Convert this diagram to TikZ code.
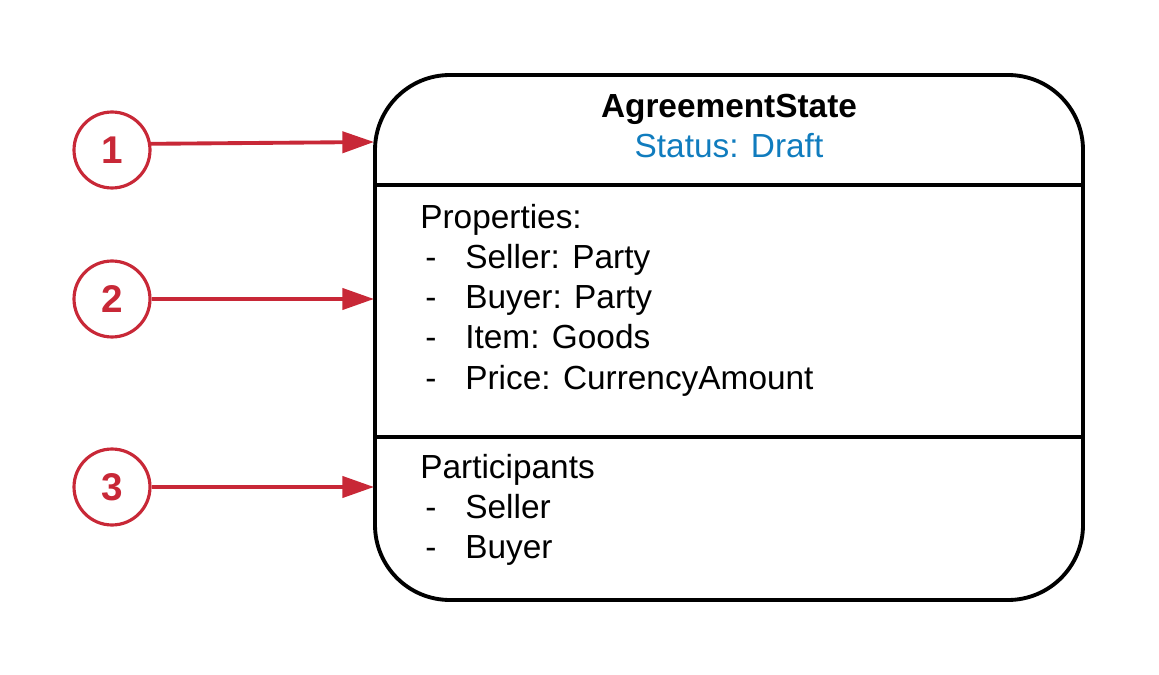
\documentclass[tikz,border=0pt]{standalone}
\usepackage{fontspec}
\setmainfont{Liberation Sans}
\usetikzlibrary{arrows.meta}
\definecolor{markred}{RGB}{200,40,55}
\definecolor{statusblue}{RGB}{16,124,190}
\tikzset{
  marker/.style={circle, draw=markred, line width=1.8pt, minimum size=1.52cm, inner sep=0pt,
    text=markred, font=\fontsize{22}{26}\selectfont\bfseries},
  pointer/.style={draw=markred, line width=2.2pt, -{Triangle[length=18pt,width=12pt]}},
  entry/.style={anchor=base west, inner sep=0pt, font=\fontsize{19}{22.7}\selectfont}
}
\begin{document}
\begin{tikzpicture}[x=0.02cm,y=-0.02cm]
\useasboundingbox (0,0) rectangle (1159,675);

% State box with its three parts
\draw[line width=2.2pt, rounded corners=1.5cm] (375,75) rectangle (1083,600);
\draw[line width=2.2pt] (375,185) -- (1083,185);
\draw[line width=2.2pt] (375,437) -- (1083,437);

% Header
\node[entry, anchor=base, font=\fontsize{19}{22.7}\selectfont\bfseries] (title) at (729,118) {AgreementState};
\node[entry, anchor=base, text=statusblue] (status) at (729,158) {Status: Draft};

% Properties
\node[entry] (props) at (420,229) {Properties:};
\node[entry] (d1) at (425,269) {-};
\node[entry] (seller) at (465,269) {Seller: Party};
\node[entry] (d2) at (425,309) {-};
\node[entry] (buyer) at (465,309) {Buyer: Party};
\node[entry] (d3) at (425,349) {-};
\node[entry] (item) at (465,349) {Item: Goods};
\node[entry] (d4) at (425,389) {-};
\node[entry] (price) at (465,389) {Price: CurrencyAmount};

% Participants
\node[entry] (parts) at (420,478) {Participants};
\node[entry] (d5) at (425,518) {-};
\node[entry] (pseller) at (465,518) {Seller};
\node[entry] (d6) at (425,558) {-};
\node[entry] (pbuyer) at (465,558) {Buyer};

% Numbered markers
\node[marker] (n1) at (112,150) {1};
\node[marker] (n2) at (112,299) {2};
\node[marker] (n3) at (112,487) {3};

\coordinate (in1) at (374,142);
\coordinate (in2) at (374,299);
\coordinate (in3) at (374,487);

\draw[pointer] (n1.9) -- (in1);
\draw[pointer] (n2) -- (in2);
\draw[pointer] (n3) -- (in3);
\end{tikzpicture}
\end{document}
